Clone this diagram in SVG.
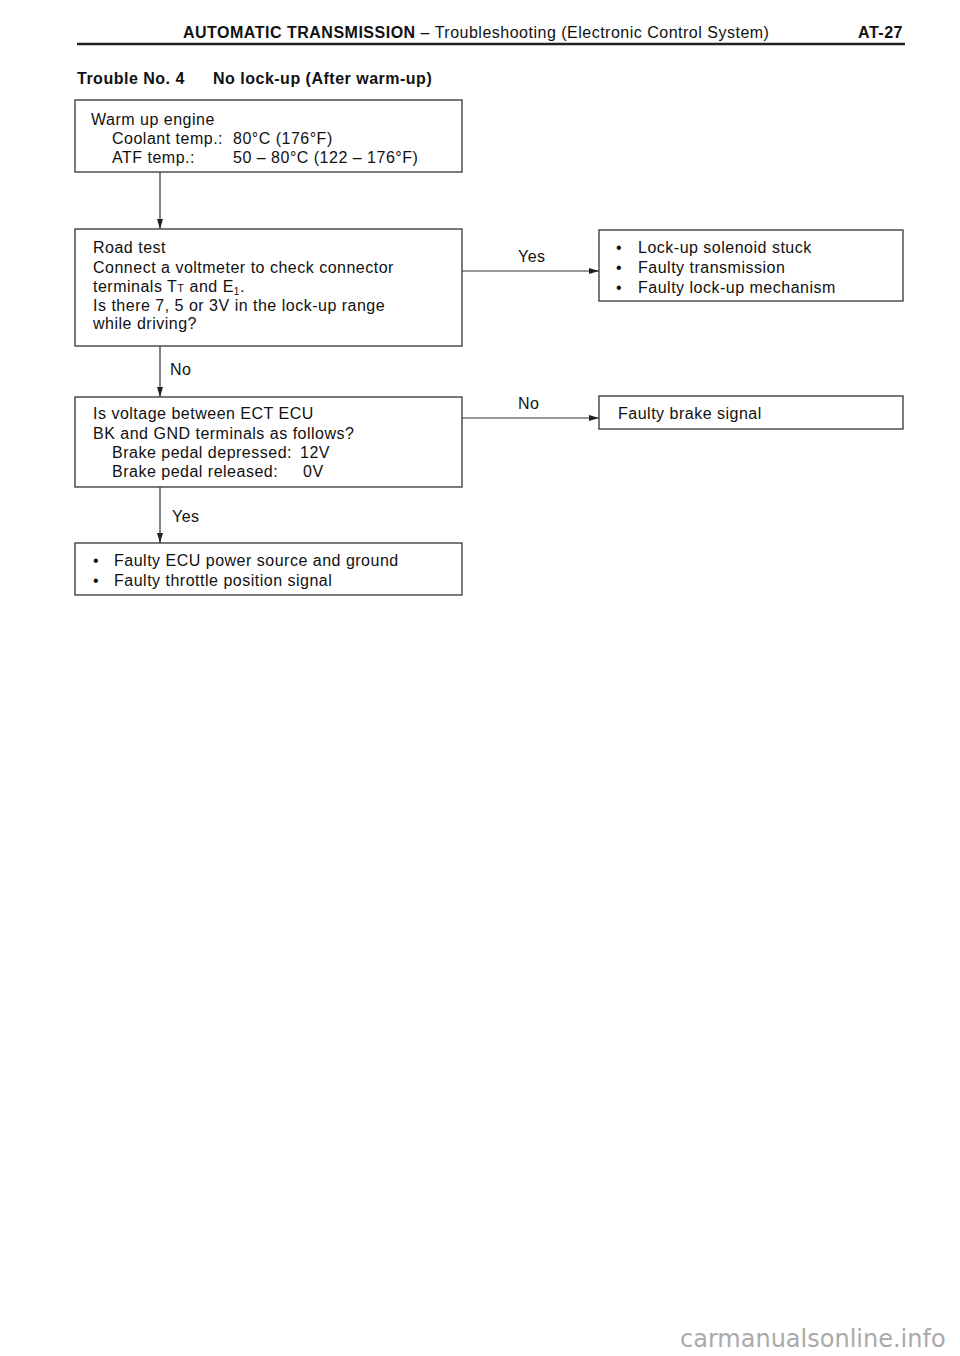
<svg xmlns="http://www.w3.org/2000/svg" width="960" height="1356" viewBox="0 0 960 1356">
<style>
text{font-family:"Liberation Sans",Arial,sans-serif;font-size:16px;letter-spacing:0.5px;fill:#111}
.b{font-weight:bold}
.box{fill:#fff;stroke:#333;stroke-width:1.3}
.ln{stroke:#333;stroke-width:1.2;fill:none}
</style>
<defs>
<marker id="ah" viewBox="0 0 10 6" refX="10" refY="3" markerWidth="10" markerHeight="6" markerUnits="userSpaceOnUse" orient="auto">
<path d="M0,0 L10,3 L0,6 z" fill="#222"/>
</marker>
</defs>
<rect width="960" height="1356" fill="#fff"/>
<g id="header">
<text x="183" y="38"><tspan class="b">AUTOMATIC TRANSMISSION</tspan> – Troubleshooting (Electronic Control System)</text>
<text x="903" y="38" class="b" text-anchor="end">AT-27</text>
<line x1="77" y1="44" x2="905" y2="44" stroke="#222" stroke-width="2.5"/>
<text x="77" y="84" class="b">Trouble No. 4<tspan x="213">No lock-up (After warm-up)</tspan></text>
</g>
<g id="connectors">
<line class="ln" x1="160" y1="172" x2="160" y2="229" marker-end="url(#ah)"/>
<line class="ln" x1="160" y1="346" x2="160" y2="397" marker-end="url(#ah)"/>
<line class="ln" x1="160" y1="487" x2="160" y2="543" marker-end="url(#ah)"/>
<line class="ln" x1="462" y1="271" x2="599" y2="271" marker-end="url(#ah)"/>
<line class="ln" x1="462" y1="418" x2="599" y2="418" marker-end="url(#ah)"/>
<text x="170" y="375">No</text>
<text x="172" y="522">Yes</text>
<text x="518" y="262">Yes</text>
<text x="518" y="409">No</text>
</g>
<g id="n1">
<rect class="box" x="75" y="100" width="387" height="72"/>
<text x="91" y="125">Warm up engine</text>
<text x="112" y="144">Coolant temp.:<tspan x="233">80°C (176°F)</tspan></text>
<text x="112" y="163">ATF temp.:<tspan x="233">50 – 80°C (122 – 176°F)</tspan></text>
</g>
<g id="n2">
<rect class="box" x="75" y="229" width="387" height="117"/>
<text x="93" y="253">Road test</text>
<text x="93" y="273">Connect a voltmeter to check connector</text>
<text x="93" y="292">terminals T<tspan font-size="11">T</tspan> and E<tspan font-size="10" dy="3">1</tspan><tspan dy="-3">.</tspan></text>
<text x="93" y="311">Is there 7, 5 or 3V in the lock-up range</text>
<text x="93" y="329">while driving?</text>
</g>
<g id="n3">
<rect class="box" x="599" y="230" width="304" height="71"/>
<text x="616" y="253">•<tspan x="638">Lock-up solenoid stuck</tspan></text>
<text x="616" y="273">•<tspan x="638">Faulty transmission</tspan></text>
<text x="616" y="293">•<tspan x="638">Faulty lock-up mechanism</tspan></text>
</g>
<g id="n4">
<rect class="box" x="75" y="397" width="387" height="90"/>
<text x="93" y="419">Is voltage between ECT ECU</text>
<text x="93" y="439">BK and GND terminals as follows?</text>
<text x="112" y="458">Brake pedal depressed:<tspan x="300">12V</tspan></text>
<text x="112" y="477">Brake pedal released:<tspan x="303">0V</tspan></text>
</g>
<g id="n5">
<rect class="box" x="599" y="396" width="304" height="33"/>
<text x="618" y="419">Faulty brake signal</text>
</g>
<g id="n6">
<rect class="box" x="75" y="543" width="387" height="52"/>
<text x="93" y="566">•<tspan x="114">Faulty ECU power source and ground</tspan></text>
<text x="93" y="586">•<tspan x="114">Faulty throttle position signal</tspan></text>
</g>
<text x="680" y="1347" style="font-family:'DejaVu Sans',sans-serif;font-size:24px;letter-spacing:0;fill:#aaa">carmanualsonline.info</text>
</svg>
